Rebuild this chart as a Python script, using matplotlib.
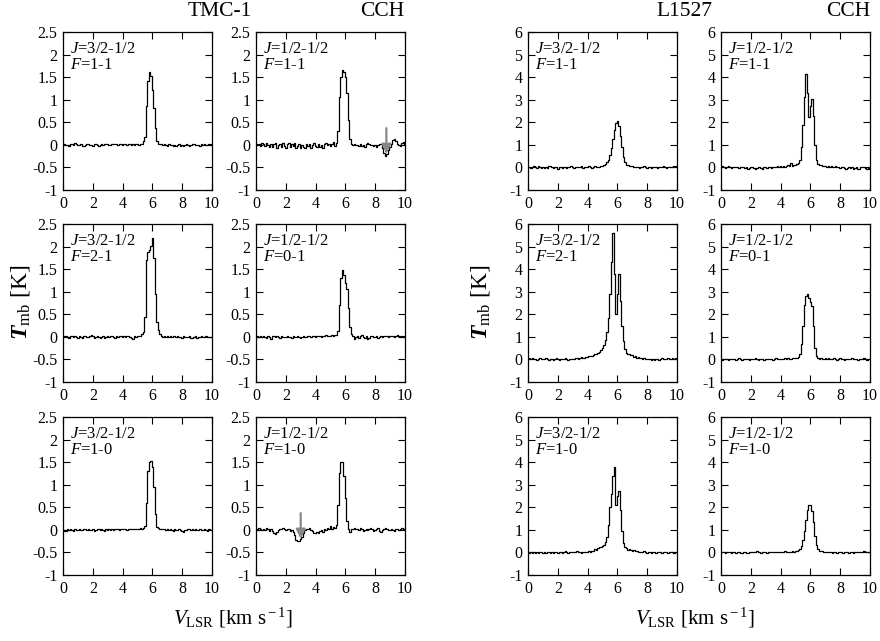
import numpy as np
import matplotlib
matplotlib.use("Agg")
import matplotlib.pyplot as plt
from matplotlib.ticker import FuncFormatter, MultipleLocator

plt.rcParams['font.family'] = ['Liberation Serif', 'DejaVu Serif']
plt.rcParams['mathtext.fontset'] = 'custom'
plt.rcParams['mathtext.rm'] = 'Liberation Serif'
plt.rcParams['mathtext.it'] = 'Liberation Serif:italic'
plt.rcParams['mathtext.bfit'] = 'Liberation Serif:italic:bold'
plt.rcParams['axes.unicode_minus'] = False

# CCH spectra, T_mb [K] per 0.1 km/s channel from 0 to 10 km/s
# TMC-1
tmc_32_11 = [0.02, 0.01, -0.01, 0.00, -0.02, 0.01, 0.03, 0.00, 0.04, 0.01,
	-0.01, 0.00, 0.02, -0.02, -0.03, 0.00, 0.01, 0.02, -0.01, 0.00,
	-0.02, 0.03, 0.01, -0.01, -0.03, -0.01, 0.02, 0.00, 0.01, 0.03,
	0.02, 0.00, -0.01, 0.02, 0.01, 0.03, 0.02, 0.00, 0.01, 0.02,
	-0.01, 0.01, 0.03, 0.00, 0.02, 0.01, -0.01, 0.02, 0.00, 0.01,
	0.02, 0.00, 0.01, 0.03, 0.08, 0.18, 0.85, 1.42, 1.62, 1.52,
	1.22, 0.82, 0.38, 0.08, 0.03, 0.01, 0.02, -0.01, 0.01, 0.00,
	-0.02, 0.01, 0.00, -0.01, -0.03, 0.00, -0.02, -0.01, 0.01, -0.02,
	0.00, -0.03, -0.01, 0.01, 0.00, -0.02, -0.01, 0.01, 0.02, 0.00,
	-0.01, 0.00, -0.02, 0.01, 0.00, 0.01, -0.01, 0.00, 0.01, 0.00,
	0.01]
tmc_12_11 = [0.02, 0.00, 0.03, -0.02, 0.04, 0.01, -0.03, 0.05, 0.00, -0.04,
	0.03, -0.05, 0.02, 0.04, -0.06, 0.00, 0.03, -0.04, 0.05, -0.02,
	-0.06, 0.01, 0.04, -0.05, 0.02, -0.03, 0.05, -0.08, -0.02, 0.03,
	-0.06, 0.00, -0.04, -0.07, 0.01, -0.03, 0.02, -0.06, -0.01, 0.04,
	-0.02, -0.05, 0.03, -0.04, 0.00, -0.06, 0.02, 0.05, -0.01, 0.03,
	-0.03, 0.01, 0.06, -0.02, 0.05, 0.30, 1.05, 1.50, 1.65, 1.62,
	1.50, 1.15, 0.55, 0.12, 0.02, 0.00, 0.03, -0.01, 0.00, -0.03,
	0.01, -0.02, 0.00, -0.04, 0.02, 0.04, 0.03, -0.01, 0.00, -0.03,
	-0.01, -0.04, 0.00, 0.03, 0.01, -0.08, -0.18, -0.25, -0.20, -0.12,
	-0.05, 0.02, 0.10, 0.13, 0.08, 0.03, 0.00, -0.02, 0.04, 0.06,
	0.03]
tmc_32_21 = [0.01, -0.01, 0.02, 0.00, -0.02, 0.01, 0.03, -0.01, 0.02, 0.00,
	-0.03, 0.01, 0.00, -0.02, 0.01, 0.03, 0.00, -0.01, 0.02, 0.04,
	0.01, -0.02, 0.00, 0.02, -0.01, -0.03, 0.00, 0.01, -0.02, 0.00,
	0.02, -0.01, 0.01, 0.03, 0.00, -0.02, 0.01, 0.00, 0.02, 0.01,
	0.00, 0.02, -0.01, 0.01, 0.03, 0.00, -0.02, -0.04, 0.01, 0.00,
	0.02, 0.03, 0.01, 0.06, 0.10, 0.45, 1.70, 1.88, 1.92, 2.02,
	2.18, 1.75, 0.95, 0.32, 0.15, 0.06, 0.02, 0.00, 0.01, -0.01,
	0.02, 0.00, 0.01, -0.01, 0.02, 0.03, 0.00, 0.01, -0.01, 0.00,
	-0.02, 0.01, 0.00, -0.01, 0.00, 0.02, -0.02, -0.03, 0.00, 0.01,
	-0.02, -0.01, 0.00, 0.01, -0.01, 0.00, 0.01, 0.00, -0.01, 0.00,
	0.00]
tmc_12_01 = [0.00, 0.02, -0.01, 0.01, 0.00, 0.03, 0.00, -0.02, 0.02, 0.00,
	-0.04, 0.01, 0.03, -0.01, 0.02, 0.00, -0.02, 0.01, 0.00, -0.01,
	0.00, 0.02, -0.01, 0.00, -0.02, 0.01, 0.00, -0.01, 0.02, 0.00,
	-0.02, 0.00, 0.01, -0.01, 0.00, 0.02, 0.01, 0.00, 0.03, 0.01,
	0.00, 0.02, 0.01, 0.03, 0.00, 0.02, 0.01, 0.04, 0.02, 0.01,
	0.03, 0.05, 0.02, 0.05, 0.05, 0.12, 0.70, 1.30, 1.47, 1.38,
	1.20, 1.05, 0.65, 0.22, 0.06, 0.02, -0.04, 0.00, 0.03, -0.02,
	0.02, 0.04, 0.00, -0.03, 0.01, -0.05, -0.02, 0.02, 0.03, 0.00,
	-0.01, 0.01, -0.02, 0.00, 0.02, 0.00, 0.01, 0.03, 0.01, 0.00,
	0.02, 0.01, 0.03, 0.00, 0.02, 0.04, 0.01, 0.00, 0.02, -0.01,
	0.03]
tmc_32_10 = [-0.02, 0.00, -0.03, 0.01, -0.01, 0.02, 0.00, -0.02, 0.01, 0.00,
	-0.01, 0.02, 0.00, -0.01, 0.01, 0.03, 0.00, 0.02, -0.01, 0.00,
	0.01, -0.02, 0.00, 0.02, 0.01, -0.01, 0.03, 0.00, -0.02, 0.01,
	0.00, 0.02, -0.01, 0.01, 0.00, 0.02, 0.03, 0.01, 0.00, 0.02,
	0.03, 0.01, 0.02, 0.00, 0.03, 0.02, 0.01, 0.03, 0.02, 0.01,
	0.03, 0.02, 0.04, 0.03, 0.05, 0.08, 0.60, 1.30, 1.50, 1.53,
	1.40, 0.95, 0.35, 0.06, 0.04, 0.02, 0.03, 0.01, 0.02, 0.00,
	0.01, -0.01, 0.02, 0.00, -0.02, 0.01, 0.00, -0.01, 0.02, 0.00,
	-0.02, -0.04, -0.01, 0.00, 0.02, 0.01, -0.01, 0.03, 0.00, 0.01,
	-0.01, 0.00, 0.02, 0.00, -0.01, 0.01, 0.00, -0.02, 0.01, 0.00,
	0.00]
tmc_12_10 = [0.02, 0.00, 0.04, 0.01, -0.01, 0.03, 0.00, 0.04, 0.02, -0.02,
	0.01, -0.03, -0.06, -0.09, -0.05, 0.00, 0.03, 0.01, 0.05, 0.02,
	0.00, 0.03, 0.01, -0.02, 0.00, -0.04, -0.12, -0.22, -0.25, -0.24,
	-0.20, -0.15, -0.06, 0.00, 0.03, 0.01, 0.04, 0.00, -0.02, -0.06,
	-0.08, -0.05, -0.07, -0.03, -0.01, -0.04, 0.02, 0.00, 0.05, 0.03,
	0.08, 0.02, 0.06, 0.05, 0.10, 0.55, 1.25, 1.50, 1.50, 1.20,
	0.70, 0.20, 0.03, -0.04, 0.02, 0.03, 0.05, 0.01, 0.02, 0.00,
	0.04, 0.02, -0.02, 0.00, 0.03, -0.01, 0.02, 0.04, 0.01, -0.03,
	0.00, 0.02, 0.04, -0.02, -0.04, 0.00, 0.02, 0.05, 0.01, 0.00,
	-0.01, 0.02, 0.00, -0.03, 0.02, 0.01, 0.00, 0.03, 0.05, 0.02,
	0.01]
# L1527
l_32_11 = [0.00, 0.03, -0.02, 0.01, 0.05, 0.00, -0.03, 0.08, 0.02, -0.01,
	0.00, -0.04, 0.02, -0.02, 0.05, 0.06, 0.00, -0.03, 0.02, 0.01,
	-0.05, 0.02, 0.00, -0.02, 0.03, 0.01, -0.04, 0.00, 0.02, 0.05,
	0.00, -0.02, 0.03, 0.01, 0.00, 0.02, 0.06, -0.02, 0.00, 0.03,
	0.01, 0.05, 0.00, -0.02, 0.04, 0.08, 0.02, 0.00, 0.03, 0.05,
	0.07, 0.10, 0.14, 0.22, 0.35, 0.55, 0.85, 1.25, 1.65, 1.95,
	2.05, 1.85, 1.40, 0.90, 0.45, 0.22, 0.12, 0.10, 0.08, 0.05,
	0.06, 0.03, 0.00, 0.04, 0.02, -0.03, 0.00, 0.03, 0.05, 0.01,
	-0.02, 0.00, 0.03, -0.01, 0.02, 0.04, 0.00, -0.03, 0.01, 0.03,
	0.00, 0.05, 0.02, -0.02, 0.00, 0.03, 0.01, 0.04, 0.06, 0.02,
	0.05]
l_12_11 = [0.02, 0.05, 0.00, -0.02, 0.03, 0.06, 0.01, -0.03, 0.00, 0.04,
	0.02, 0.00, -0.04, 0.01, 0.03, 0.00, -0.02, 0.02, -0.05, -0.03,
	0.00, 0.02, -0.04, -0.06, -0.02, 0.01, 0.03, -0.03, -0.05, 0.00,
	0.02, -0.02, 0.00, 0.03, -0.01, 0.02, 0.04, 0.00, 0.05, 0.02,
	0.06, 0.03, 0.08, 0.04, 0.05, 0.10, 0.06, 0.20, 0.08, 0.12,
	0.10, 0.14, 0.18, 0.35, 0.90, 1.90, 3.10, 4.15, 3.30, 2.25,
	2.70, 3.05, 2.30, 1.00, 0.35, 0.14, 0.10, 0.12, 0.08, 0.05,
	0.06, 0.04, 0.07, 0.02, 0.05, 0.00, 0.03, 0.06, 0.02, 0.00,
	-0.02, 0.03, 0.00, -0.03, -0.05, -0.02, 0.01, -0.03, 0.00, -0.06,
	-0.03, 0.00, -0.08, -0.05, 0.02, 0.04, 0.00, -0.02, -0.06, -0.03,
	-0.05]
l_32_21 = [0.03, 0.05, 0.00, 0.06, 0.02, 0.04, -0.02, 0.03, 0.07, 0.02,
	0.00, 0.04, 0.06, 0.01, -0.03, 0.02, 0.00, -0.04, 0.03, 0.05,
	0.01, -0.02, 0.03, 0.00, 0.02, 0.05, 0.01, -0.01, 0.03, 0.02,
	0.04, 0.01, 0.05, 0.08, 0.03, 0.06, 0.10, 0.07, 0.08, 0.12,
	0.10, 0.13, 0.15, 0.14, 0.20, 0.22, 0.26, 0.30, 0.35, 0.42,
	0.50, 0.62, 0.85, 1.20, 1.85, 2.90, 4.30, 5.60, 3.80, 2.00,
	2.90, 3.80, 2.60, 1.50, 0.80, 0.45, 0.30, 0.25, 0.22, 0.18,
	0.20, 0.12, 0.15, 0.08, 0.10, 0.05, 0.08, 0.03, 0.06, 0.02,
	0.04, 0.00, 0.03, -0.02, 0.01, -0.04, 0.00, 0.03, -0.02, 0.01,
	0.05, 0.02, 0.00, 0.03, 0.08, 0.04, 0.01, 0.05, 0.03, 0.06,
	0.04]
l_12_01 = [0.00, -0.02, 0.01, 0.03, 0.00, -0.03, 0.02, 0.00, 0.04, 0.01,
	-0.01, 0.02, 0.05, 0.00, -0.02, 0.03, 0.01, 0.00, 0.02, -0.03,
	0.01, 0.03, 0.00, 0.05, 0.02, -0.01, 0.00, 0.03, 0.01, -0.02,
	0.02, 0.00, 0.04, 0.01, 0.03, -0.01, 0.02, 0.05, 0.00, 0.03,
	0.02, 0.04, 0.01, 0.05, 0.03, 0.06, 0.02, 0.04, 0.08, 0.05,
	0.06, 0.08, 0.10, 0.25, 0.70, 1.50, 2.40, 2.80, 2.90, 2.70,
	2.55, 2.35, 1.50, 0.50, 0.15, 0.05, 0.02, 0.06, 0.00, 0.03,
	0.08, 0.02, 0.05, 0.00, 0.04, 0.01, 0.06, 0.02, -0.01, 0.03,
	0.05, 0.00, 0.02, -0.02, 0.01, 0.04, 0.00, 0.02, 0.05, 0.01,
	0.00, 0.03, -0.01, 0.02, 0.04, 0.00, 0.05, 0.02, -0.02, 0.03,
	0.01]
l_32_10 = [0.00, -0.03, 0.02, -0.01, 0.01, -0.04, 0.00, -0.02, 0.03, 0.00,
	-0.02, 0.01, -0.03, 0.02, 0.00, -0.01, 0.01, -0.04, 0.00, 0.02,
	-0.02, 0.01, 0.00, -0.03, 0.02, 0.05, 0.00, -0.02, 0.01, 0.00,
	0.03, 0.00, 0.02, 0.05, 0.01, 0.03, -0.01, 0.02, 0.00, 0.04,
	0.02, 0.05, 0.03, 0.08, 0.05, 0.15, 0.10, 0.20, 0.25, 0.22,
	0.28, 0.35, 0.45, 0.70, 1.20, 2.00, 2.60, 3.40, 3.80, 2.10,
	2.50, 2.70, 1.90, 0.95, 0.40, 0.22, 0.18, 0.12, 0.15, 0.10,
	0.08, 0.10, 0.05, 0.07, 0.02, 0.04, 0.00, 0.03, 0.06, 0.01,
	-0.02, 0.02, 0.00, -0.04, 0.01, 0.03, -0.02, 0.00, 0.04, 0.01,
	-0.01, 0.02, 0.00, 0.03, -0.02, 0.01, 0.02, 0.00, -0.01, 0.02,
	0.00]
l_12_10 = [0.03, 0.00, 0.02, -0.01, 0.01, 0.03, 0.00, -0.02, 0.01, 0.00,
	-0.03, 0.00, 0.02, -0.01, -0.02, 0.00, 0.01, -0.03, -0.01, 0.02,
	0.00, 0.03, 0.01, 0.00, 0.05, 0.02, 0.00, -0.02, 0.01, 0.03,
	0.00, -0.01, 0.02, 0.00, 0.03, 0.01, 0.00, 0.02, 0.04, 0.01,
	0.02, 0.00, 0.03, 0.05, 0.01, 0.02, 0.04, 0.03, 0.05, 0.04,
	0.06, 0.08, 0.10, 0.15, 0.30, 0.55, 0.95, 1.45, 1.90, 2.08,
	2.10, 1.85, 1.35, 0.75, 0.35, 0.15, 0.08, 0.05, 0.06, 0.03,
	0.02, 0.04, 0.00, 0.03, 0.01, -0.01, 0.02, 0.00, -0.02, 0.01,
	0.00, 0.02, -0.01, 0.01, 0.03, 0.00, -0.02, 0.01, 0.00, -0.01,
	0.02, 0.00, 0.01, 0.03, 0.00, 0.02, 0.05, 0.01, 0.00, 0.02,
	0.00]

j_labels = ["J=3/2-1/2", "J=1/2-1/2"]
f_labels = [["F=1-1", "F=1-1"], ["F=2-1", "F=0-1"], ["F=1-0", "F=1-0"]]
tmc_spectra = [[tmc_32_11, tmc_12_11], [tmc_32_21, tmc_12_01], [tmc_32_10, tmc_12_10]]
l1527_spectra = [[l_32_11, l_12_11], [l_32_21, l_12_01], [l_32_10, l_12_10]]
# unidentified absorption features marked with arrows (row, col, velocity)
tmc_arrows = [(0, 1, 8.75), (2, 1, 3.0)]

W, H = 880, 641
col_x = [63, 256, 528, 721]
row_top = [32, 224, 417]
pw, ph = 149, 158

fig = plt.figure(figsize=(W / 100, H / 100), dpi=100)

def italic_first(s):
	# "J=3/2-1/2" -> italic J, rest upright
	return r'$%s$' % s[0] + s[1:]

def panel(x, top, spec, jlab, flab, ylim, ystep):
	ax = fig.add_axes([x / W, 1 - (top + ph) / H, pw / W, ph / H])
	v = np.linspace(0, 10, len(spec))
	ax.plot(v, spec, drawstyle='steps-mid', color='black', lw=0.9)
	ax.set_xlim(0, 10)
	ax.set_ylim(*ylim)
	ax.xaxis.set_major_locator(MultipleLocator(2))
	ax.yaxis.set_major_locator(MultipleLocator(ystep))
	ax.yaxis.set_major_formatter(FuncFormatter(lambda val, p: '%g' % val))
	ax.tick_params(direction='in', top=True, right=True, length=5, width=0.8,
		labelsize=11.5, pad=4)
	for s in ax.spines.values():
		s.set_linewidth(0.9)
	ax.text(0.05, 0.895, italic_first(jlab), transform=ax.transAxes, fontsize=12,
		va='center', ha='left')
	ax.text(0.05, 0.79, italic_first(flab), transform=ax.transAxes, fontsize=12,
		va='center', ha='left')
	return ax

for r in range(3):
	for c in range(2):
		ax = panel(col_x[c], row_top[r], tmc_spectra[r][c], j_labels[c], f_labels[r][c],
			(-1, 2.5), 0.5)
		for ar, ac, av in tmc_arrows:
			if ar == r and ac == c:
				ax.annotate('', xy=(av, -0.2), xytext=(av, 0.37),
					arrowprops=dict(arrowstyle='-|>', color='#888888', lw=1.6,
						mutation_scale=14, shrinkA=0, shrinkB=0))
		panel(col_x[c + 2], row_top[r], l1527_spectra[r][c], j_labels[c], f_labels[r][c],
			(-1, 6), 1)

fig.text(220 / W, 1 - 12 / H, "TMC-1", fontsize=15.5, ha='center', va='center')
fig.text(404 / W, 1 - 12 / H, "CCH", fontsize=15.5, ha='right', va='center')
fig.text(684 / W, 1 - 12 / H, "L1527", fontsize=15.5, ha='center', va='center')
fig.text(870 / W, 1 - 12 / H, "CCH", fontsize=15.5, ha='right', va='center')

for xl in [20, 480]:
	fig.text(xl / W, 1 - 302 / H, r'$\mathbfit{T}_{\rm mb}$ [K]', fontsize=17, rotation=90,
		ha='center', va='center')
for xc in [233, 695]:
	fig.text(xc / W, 1 - 618 / H, r'$V_{\rm LSR}$ [km s$^{\rm -1}$]', fontsize=15,
		ha='center', va='center')

fig.savefig('out.png', dpi=100)
